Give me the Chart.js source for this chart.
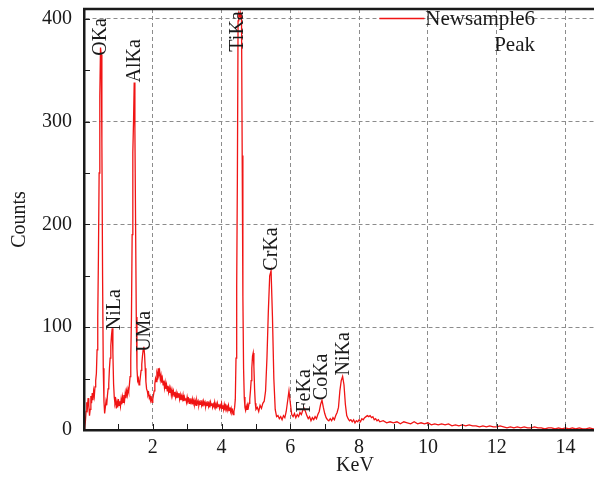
<!DOCTYPE html>
<html>
<head>
<meta charset="utf-8">
<title>EDS spectrum</title>
<script src="https://cdn.jsdelivr.net/npm/chart.js@4.4.1/dist/chart.umd.min.js"></script>
<style>
  html, body { margin: 0; padding: 0; background: #fff; }
  #wrap { width: 594px; height: 479px; }
</style>
</head>
<body>
<div id="wrap"><canvas id="chartEDS" width="594" height="479"></canvas></div>
<script>
// ------------------------------------------------------------
// Datos del espectro
// ------------------------------------------------------------
const keV = [
  0.00, 0.02, 0.04, 0.06, 0.08, 0.10, 0.12, 0.14, 0.16, 0.18,
  0.20, 0.22, 0.24, 0.26, 0.28, 0.30, 0.32, 0.34, 0.36, 0.38,
  0.40, 0.42, 0.44, 0.46, 0.48, 0.50, 0.52, 0.54, 0.56, 0.58,
  0.60, 0.62, 0.64, 0.66, 0.68, 0.70, 0.72, 0.74, 0.76, 0.78,
  0.80, 0.82, 0.84, 0.86, 0.88, 0.90, 0.92, 0.94, 0.96, 0.98,
  1.00, 1.02, 1.04, 1.06, 1.08, 1.10, 1.12, 1.14, 1.16, 1.18,
  1.20, 1.22, 1.24, 1.26, 1.28, 1.30, 1.32, 1.34, 1.36, 1.38,
  1.40, 1.42, 1.44, 1.46, 1.48, 1.50, 1.52, 1.54, 1.56, 1.58,
  1.60, 1.62, 1.64, 1.66, 1.68, 1.70, 1.72, 1.74, 1.76, 1.78,
  1.80, 1.82, 1.84, 1.86, 1.88, 1.90, 1.92, 1.94, 1.96, 1.98,
  2.00, 2.02, 2.04, 2.06, 2.08, 2.10, 2.12, 2.14, 2.16, 2.18,
  2.20, 2.22, 2.24, 2.26, 2.28, 2.30, 2.32, 2.34, 2.36, 2.38,
  2.40, 2.42, 2.44, 2.46, 2.48, 2.50, 2.52, 2.54, 2.56, 2.58,
  2.60, 2.62, 2.64, 2.66, 2.68, 2.70, 2.72, 2.74, 2.76, 2.78,
  2.80, 2.82, 2.84, 2.86, 2.88, 2.90, 2.92, 2.94, 2.96, 2.98,
  3.00, 3.02, 3.04, 3.06, 3.08, 3.10, 3.12, 3.14, 3.16, 3.18,
  3.20, 3.22, 3.24, 3.26, 3.28, 3.30, 3.32, 3.34, 3.36, 3.38,
  3.40, 3.42, 3.44, 3.46, 3.48, 3.50, 3.52, 3.54, 3.56, 3.58,
  3.60, 3.62, 3.64, 3.66, 3.68, 3.70, 3.72, 3.74, 3.76, 3.78,
  3.80, 3.82, 3.84, 3.86, 3.88, 3.90, 3.92, 3.94, 3.96, 3.98,
  4.00, 4.02, 4.04, 4.06, 4.08, 4.10, 4.12, 4.14, 4.16, 4.18,
  4.20, 4.22, 4.24, 4.26, 4.28, 4.30, 4.32, 4.34, 4.36, 4.38,
  4.40, 4.42, 4.44, 4.46, 4.48, 4.50, 4.52, 4.54, 4.56, 4.58,
  4.60, 4.62, 4.64, 4.66, 4.68, 4.70, 4.72, 4.74, 4.76, 4.78,
  4.80, 4.82, 4.84, 4.86, 4.88, 4.90, 4.92, 4.94, 4.96, 4.98,
  5.00,
  5.04, 5.08, 5.12, 5.16, 5.20, 5.24, 5.28, 5.32, 5.36, 5.40,
  5.44, 5.48, 5.52, 5.56, 5.60, 5.64, 5.68, 5.72, 5.76, 5.80,
  5.84, 5.88, 5.92, 5.96, 6.00, 6.04, 6.08, 6.12, 6.16, 6.20,
  6.24, 6.28, 6.32, 6.36, 6.40, 6.44, 6.48, 6.52, 6.56, 6.60,
  6.64, 6.68, 6.72, 6.76, 6.80, 6.84, 6.88, 6.92, 6.96, 7.00,
  7.04, 7.08, 7.12, 7.16, 7.20, 7.24, 7.28, 7.32, 7.36, 7.40,
  7.44, 7.48, 7.52, 7.56, 7.60, 7.64, 7.68, 7.72, 7.76, 7.80,
  7.84, 7.88, 7.92, 7.96, 8.00, 8.04, 8.08, 8.12, 8.16, 8.20,
  8.24, 8.28, 8.32, 8.36, 8.40, 8.44, 8.48, 8.52, 8.56, 8.60,
  8.7, 8.8, 8.9, 9.0, 9.1, 9.2, 9.3, 9.4, 9.5, 9.6,
  9.7, 9.8, 9.9, 10.0, 10.1, 10.2, 10.3, 10.4, 10.5, 10.6,
  10.7, 10.8, 10.9, 11.0, 11.1, 11.2, 11.3, 11.4, 11.5, 11.6,
  11.7, 11.8, 11.9, 12.0, 12.1, 12.2, 12.3, 12.4, 12.5, 12.6,
  12.7, 12.8, 12.9, 13.0, 13.1, 13.2, 13.3, 13.4, 13.5, 13.6,
  13.7, 13.8, 13.9, 14.0, 14.1, 14.2, 14.3, 14.4, 14.5, 14.6,
  14.7, 14.8, 14.9
];

const counts = [
  0, 2, 8, 18, 27, 22, 31, 24, 14, 20,
  33, 26, 36, 29, 38, 33, 42, 48, 55, 78,
  110, 170, 250, 325, 372, 365, 280, 150, 60, 28,
  16, 22, 28, 24, 33, 40, 45, 60, 70, 82,
  92, 99, 75, 45, 32, 26, 29, 21, 27, 22,
  30, 24, 28, 23, 30, 25, 32, 27, 34, 29,
  36, 31, 38, 34, 40, 37, 44, 52, 70, 110,
  190, 270, 300, 338, 292, 200, 110, 60, 48, 50,
  44, 46, 52, 58, 64, 72, 78, 81, 74, 60,
  47, 40, 38, 34, 36, 31, 33, 29, 31, 27,
  30, 34, 38, 45, 50, 47, 55, 52, 60, 54,
  57, 49, 53, 46, 50, 44, 48, 41, 46, 40,
  44, 38, 43, 37, 41, 36, 40, 34, 39, 35,
  38, 33, 37, 32, 36, 31, 35, 32, 36, 30,
  34, 29, 33, 30, 34, 28, 32, 29, 31, 27,
  32, 28, 30, 26, 31, 27, 29, 25, 30, 26,
  29, 25, 28, 24, 29, 26, 28, 24, 27, 25,
  29, 24, 27, 23, 28, 25, 27, 23, 26, 24,
  28, 23, 26, 22, 27, 24, 26, 22, 25, 23,
  27, 22, 25, 21, 26, 23, 25, 21, 24, 22,
  26, 21, 24, 20, 25, 22, 24, 20, 23, 21,
  24, 19, 22, 18, 21, 17, 19, 15, 18, 22,
  30, 70, 140, 245, 398, 405, 403, 406, 400, 404,
  267, 130, 60, 32, 22, 19, 23, 20, 24, 22,
  26, 30, 38, 48, 60, 72, 75, 62, 40, 26,
  20,
  22, 18, 24, 21, 26, 28, 38, 70, 115, 150,
  155, 110, 50, 20, 13, 14, 11, 13, 10, 14,
  12, 18, 28, 38, 26, 15, 13, 16, 12, 15,
  13, 17, 15, 19, 21, 18, 14, 11, 13, 9,
  12, 10, 13, 11, 15, 18, 25, 29, 22, 16,
  12, 10, 9, 11, 9, 12, 10, 14, 17, 22,
  38, 48, 52, 44, 25, 14, 11, 9, 10, 8,
  10, 7, 9, 8, 10, 8, 11, 10, 12, 13,
  14, 13, 14, 12, 13, 10, 11, 9, 10, 8,
  9, 7, 8, 7, 8, 6, 8, 7, 6, 8,
  6, 7, 6, 7, 5, 6, 5, 6, 5, 6,
  4, 5, 4, 5, 4, 5, 4, 4, 3, 4,
  3, 4, 3, 3, 4, 3, 2, 3, 2, 3,
  2, 3, 2, 2, 3, 2, 2, 1, 2, 2,
  1, 2, 1, 2, 1, 2, 1, 2, 1, 1,
  2, 1, 1
];

// Etiquetas de los picos: nombre, posición (keV) y altura donde empieza el texto
const peakNames  = ['OKa', 'NiLa', 'AlKa', 'UMa', 'TiKa', 'CrKa', 'FeKa', 'CoKa', 'NiKa'];
const peakKeV    = [0.48, 0.88, 1.48, 1.78, 4.46, 5.46, 6.42, 6.92, 7.54];
const peakCounts = [364, 97, 338, 76, 368, 155, 17, 29, 53];

// Ejes
const xTickValues = [2, 4, 6, 8, 10, 12, 14];
const yTickValues = [0, 100, 200, 300, 400];

// Paleta y tipografía
const SERIF = '"Liberation Serif", "DejaVu Serif", serif';
const RED = '#f01414';
const INK = '#1a1a1a';
const GRID = '#8c8c8c';

// ------------------------------------------------------------
// Plugin: marco superior, marcas de ticks hacia dentro, título X y leyenda
// ------------------------------------------------------------
const frameAndLegend = {
  id: 'frameAndLegend',
  afterDraw(chart) {
    const { ctx, chartArea: a, scales: { x, y } } = chart;
    ctx.save();
    ctx.strokeStyle = INK;
    ctx.lineWidth = 1;
    // ticks menores/mayores en X (cada 1 keV)
    x.ticks.forEach((t) => {
      if (t.value <= 0) return;
      const px = Math.round(x.getPixelForValue(t.value)) + 0.5;
      ctx.beginPath(); ctx.moveTo(px, a.bottom); ctx.lineTo(px, a.bottom - 6); ctx.stroke();
    });
    // ticks en Y (cada 50)
    y.ticks.forEach((t) => {
      if (t.value <= 0) return;
      const py = Math.round(y.getPixelForValue(t.value)) + 0.5;
      ctx.beginPath(); ctx.moveTo(a.left, py); ctx.lineTo(a.left + 6, py); ctx.stroke();
    });
    // borde superior grueso
    ctx.lineWidth = 2.5;
    ctx.beginPath(); ctx.moveTo(a.left - 1, a.top); ctx.lineTo(a.right, a.top); ctx.stroke();

    // título del eje X
    ctx.fillStyle = INK;
    ctx.font = `20px ${SERIF}`;
    ctx.textAlign = 'center';
    ctx.textBaseline = 'middle';
    ctx.fillText('KeV', 355, 466);

    // leyenda
    const ds = chart.data.datasets[0];
    ctx.font = `21px ${SERIF}`;
    ctx.textAlign = 'right';
    const rightX = 535;
    const w = ctx.measureText(ds.label).width;
    ctx.fillText(ds.label, rightX, 19);
    ctx.fillText('Peak', rightX, 45);
    ctx.strokeStyle = ds.borderColor;
    ctx.lineWidth = 1.3;
    ctx.beginPath(); ctx.moveTo(rightX - w - 46, 18.5); ctx.lineTo(rightX - w - 1, 18.5); ctx.stroke();
    ctx.restore();
  }
};

// Plugin: nombres de los picos, girados 90°
const peakLabels = {
  id: 'peakLabels',
  afterDatasetsDraw(chart) {
    const { ctx, scales: { x, y } } = chart;
    ctx.save();
    ctx.fillStyle = INK;
    ctx.font = `20px ${SERIF}`;
    ctx.textAlign = 'left';
    ctx.textBaseline = 'middle';
    peakNames.forEach((name, i) => {
      ctx.save();
      ctx.translate(x.getPixelForValue(peakKeV[i]), y.getPixelForValue(peakCounts[i]));
      ctx.rotate(-Math.PI / 2);
      ctx.fillText(name, 0, 0);
      ctx.restore();
    });
    ctx.restore();
  }
};

new Chart(document.getElementById('chartEDS'), {
  type: 'line',
  data: {
    datasets: [{
      label: 'Newsample6',
      data: keV.map((v, i) => ({ x: v, y: counts[i] })),
      borderColor: RED,
      borderWidth: 1.3,
      pointRadius: 0,
      tension: 0,
      fill: false
    }]
  },
  options: {
    responsive: false,
    animation: false,
    devicePixelRatio: 1,
    layout: { padding: { top: 9, right: 0, left: 0, bottom: 0 } },
    plugins: { legend: { display: false }, tooltip: { enabled: false } },
    scales: {
      x: {
        type: 'linear',
        min: 0,
        max: 14.83,
        afterFit: (s) => { s.height = 49; s.paddingLeft = 0; s.paddingRight = 0; },
        ticks: {
          stepSize: 1,
          includeBounds: false,
          autoSkip: false,
          maxRotation: 0,
          padding: 6,
          color: INK,
          font: { family: SERIF, size: 20 },
          callback: (v) => (xTickValues.includes(v) ? String(v) : '')
        },
        grid: {
          drawTicks: false,
          lineWidth: 1,
          color: (c) => (c.tick && xTickValues.includes(c.tick.value) ? GRID : 'rgba(0,0,0,0)')
        },
        border: { color: INK, width: 2.5, dash: [4, 3], z: 1 }
      },
      y: {
        min: 0,
        max: 409.5,
        afterFit: (s) => { s.width = 84; s.paddingTop = 0; s.paddingBottom = 0; },
        ticks: {
          stepSize: 50,
          includeBounds: false,
          padding: 12,
          color: INK,
          font: { family: SERIF, size: 20 },
          callback: (v) => (yTickValues.includes(v) ? String(v) : '')
        },
        grid: {
          drawTicks: false,
          lineWidth: 1,
          color: (c) => (c.tick && c.tick.value > 0 && yTickValues.includes(c.tick.value) ? GRID : 'rgba(0,0,0,0)')
        },
        border: { color: INK, width: 2.5, dash: [4, 3], z: 1 },
        title: {
          display: true,
          text: 'Counts',
          color: INK,
          font: { family: SERIF, size: 20 },
          padding: { top: 8, bottom: 0 }
        }
      }
    }
  },
  plugins: [peakLabels, frameAndLegend]
});
</script>
</body>
</html>
